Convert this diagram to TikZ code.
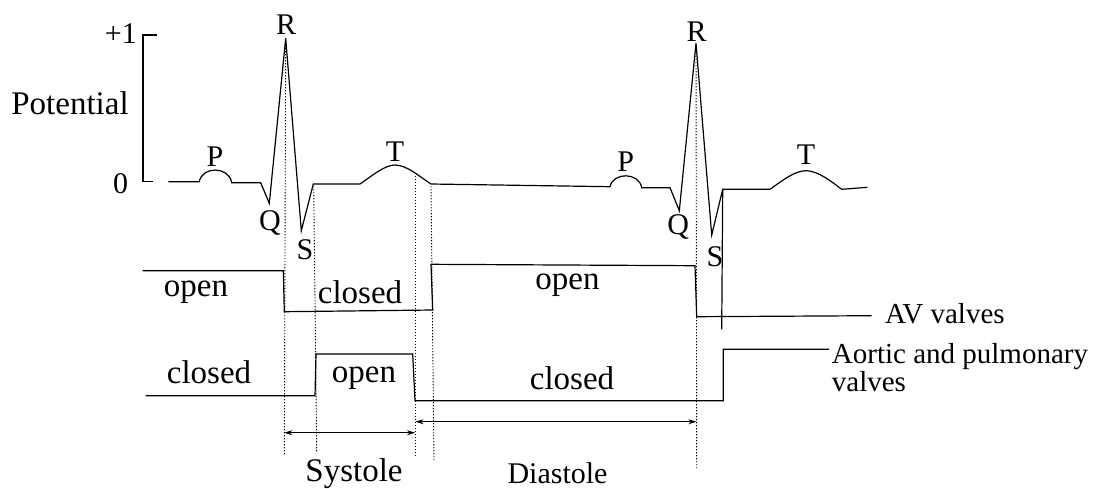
\documentclass[tikz,border=0pt]{standalone}
\usepackage{fontspec}
\setmainfont{Liberation Serif}
\usetikzlibrary{arrows.meta}
\begin{document}
\begin{tikzpicture}[x=1pt,y=-1pt,
  trace/.style={line width=1.2pt,line join=miter},
  guide/.style={line width=0.9pt,dash pattern=on 1.4pt off 1.6pt},
  span/.style={line width=0.9pt,{Stealth[length=8pt,width=5pt]}-{Stealth[length=8pt,width=5pt]}},
  big/.style={font=\fontsize{33}{36}\selectfont,inner sep=0pt},
  lbl/.style={font=\fontsize{30}{32}\selectfont,inner sep=0pt},
  side/.style={font=\fontsize{29}{28}\selectfont,inner sep=0pt}]
\useasboundingbox (0,0) rectangle (1107,488);
% axis
\coordinate (axtop) at (143,35);
\coordinate (axbot) at (143,181.7);
\draw[trace] (156.7,35) -- (axtop) -- (axbot) -- (152.7,181.7);
\node[lbl,anchor=east] (plus1) at (137,34) {+1};
\node[lbl] (zero) at (120.5,184) {0};
\node[big] (pot) at (70,103) {Potential};
% ECG trace
\coordinate (R1) at (285.7,38.3);
\coordinate (S1b) at (313.3,184);
\coordinate (T1e) at (431,184);
\coordinate (R2) at (696,43.3);
\coordinate (S2b) at (722.7,189.3);
\draw[trace] (168.3,181.7) -- (199.3,181.7)
  .. controls (202,166) and (229,166) .. (231.7,182.7)
  -- (260.7,182.7) -- (269.3,203.3) -- (R1) -- (301.3,230.7) -- (S1b)
  -- (360,184) .. controls (373,175) and (385,165) .. (395,165)
  .. controls (407,165) and (420,177) .. (T1e)
  -- (610,186.7) .. controls (613,172) and (639,172) .. (641.7,187.7)
  -- (670,187.7) -- (679.3,210.7) -- (R2) -- (711.7,235) -- (S2b)
  -- (770,189.3) .. controls (783,180) and (795,170.7) .. (806,170.7)
  .. controls (818,170.7) and (832,182) .. (841.7,189.3) -- (867.3,187.3);
\coordinate (S2d) at (721.7,329.3);
\draw[trace] (S2b) -- (S2d);
% wave labels
\node[lbl] (P1) at (215,157) {P};
\node[lbl] (Q1) at (270,223) {Q};
\node[lbl] (Rl1) at (286,25) {R};
\node[lbl] (Sl1) at (305,250) {S};
\node[lbl] (T1) at (395,152) {T};
\node[lbl] (P2) at (625.7,162) {P};
\node[lbl] (Q2) at (678.3,227) {Q};
\node[lbl] (Rl2) at (696.7,31.7) {R};
\node[lbl] (Sl2) at (715,257) {S};
\node[lbl] (T2) at (806,155) {T};
% dotted guides
\coordinate (g1t) at (285.7,42); \coordinate (g1b) at (284.3,455);
\coordinate (g2t) at (313.7,186); \coordinate (g2b) at (316.7,452);
\coordinate (g3t) at (415,173); \coordinate (g3b) at (415,457);
\coordinate (g4t) at (431,186); \coordinate (g4b) at (434,460);
\coordinate (g5t) at (696,47); \coordinate (g5b) at (696.7,468);
\draw[guide] (g1t) -- (g1b);
\draw[guide] (g2t) -- (g2b);
\draw[guide] (g3t) -- (g3b);
\draw[guide] (g4t) -- (g4b);
\draw[guide] (g5t) -- (g5b);
% AV valves
\node[side,anchor=west] (av) at (885,314) {AV valves};
\coordinate (avend) at (871.7,315.7);
\draw[trace] (142.7,270.7) -- (283.3,270.7) -- (284.3,311.7) -- (432.7,310)
  -- (431,264.3) -- (695,265.7) -- (696.7,316.7) -- (avend);
% aortic and pulmonary valves
\node[side,anchor=north west,align=left] (ap) at (831.7,343) {Aortic and pulmonary\\valves};
\coordinate (apend) at (829,349.3);
\draw[trace] (145.7,395.7) -- (315,395.7) -- (316,354) -- (412.7,354)
  -- (415,400.7) -- (723.3,400.7) -- (723.3,349.3) -- (apend);
% state labels
\node[big] (o1) at (196,292) {open};
\node[big] (c1) at (360,292) {closed};
\node[big] (o2) at (567.5,285) {open};
\node[big] (c2) at (209,372) {closed};
\node[big] (o3) at (364,378) {open};
\node[big] (c3) at (572,378) {closed};
% spans
\coordinate (sysL) at (284.3,432.7); \coordinate (sysR) at (415,432.7);
\coordinate (diaL) at (415.5,421.7); \coordinate (diaR) at (696.3,421.7);
\draw[span] (sysL) -- (sysR);
\draw[span] (diaL) -- (diaR);
\node[big] (sys) at (354,474) {Systole};
\node[lbl] (dia) at (557.5,473) {Diastole};
\end{tikzpicture}
\end{document}
